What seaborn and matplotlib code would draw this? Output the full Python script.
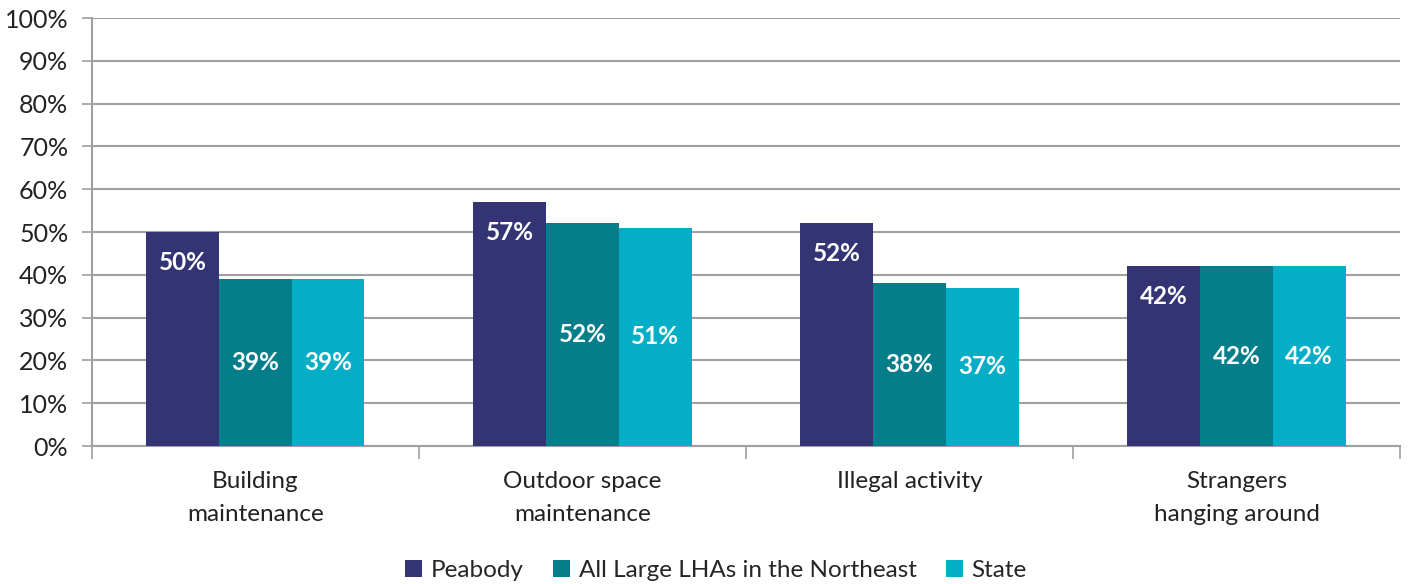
import pandas as pd
import matplotlib.pyplot as plt
import seaborn as sns

categories = ['Building\nmaintenance', 'Outdoor space\nmaintenance', 'Illegal activity', 'Strangers\nhanging around']
series = ['Peabody', 'All Large LHAs in the Northeast', 'State']
peabody = [50, 57, 52, 42]
northeast = [39, 52, 38, 42]
state = [39, 51, 37, 42]
colors = ['#343474', '#047E8A', '#03AEC6']

df = pd.DataFrame({
    'category': categories * 3,
    'group': [s for s in series for _ in categories],
    'value': peabody + northeast + state,
})

sns.set_style('white')
plt.rcParams['font.family'] = ['Lato', 'DejaVu Sans']

fig = plt.figure(figsize=(14.1, 5.84), dpi=100)
ax = fig.add_axes([0.0652, 0.2363, 0.9277, 0.7327])

sns.barplot(data=df, x='category', y='value', hue='group', order=categories,
            hue_order=series, palette=colors, width=0.667, saturation=1,
            edgecolor='none', linewidth=0, ax=ax, zorder=3)

ax.set_ylim(0, 100)
ax.set_xlim(-0.5, 3.5)
ax.set_yticks(range(0, 101, 10))
ax.set_yticklabels([f'{v}%' for v in range(0, 101, 10)], fontsize=18, color='#222222')
ax.yaxis.grid(True, color='#A0A0A0', linewidth=1.5, zorder=0)
ax.set_axisbelow(True)
ax.tick_params(axis='y', length=7, width=1.2, color='#A0A0A0', left=True, pad=10)
ax.tick_params(axis='x', which='major', length=0, labelsize=17.5, pad=18, labelcolor='#222222')
for lbl in ax.get_xticklabels():
    lbl.set_linespacing(1.7)
ax.set_xticks([-0.5, 0.5, 1.5, 2.5, 3.5], minor=True)
ax.tick_params(axis='x', which='minor', length=9, width=1.2, color='#A0A0A0', bottom=True)
ax.set_xlabel('')
ax.set_ylabel('')
for side in ['top', 'right']:
    ax.spines[side].set_visible(False)
for side in ['left', 'bottom']:
    ax.spines[side].set_color('#A0A0A0')
    ax.spines[side].set_linewidth(1.5)

# data labels: first series at the inside end, others centred
for i, cont in enumerate(ax.containers):
    for bar in cont:
        h = bar.get_height()
        x = bar.get_x() + bar.get_width() / 2
        y = h - 7 if i == 0 else h / 2
        ax.text(x, y, f'{h:.0f}%', ha='center', va='center', color='white',
                fontsize=17.5, fontweight='bold', zorder=5)

ax.legend(loc='upper center', bbox_to_anchor=(0.477, -0.215), ncol=3, frameon=False,
          fontsize=17.5, handlelength=0.7, handleheight=0.7, handletextpad=0.35,
          columnspacing=1.2)

plt.savefig('out.png', dpi=100)
